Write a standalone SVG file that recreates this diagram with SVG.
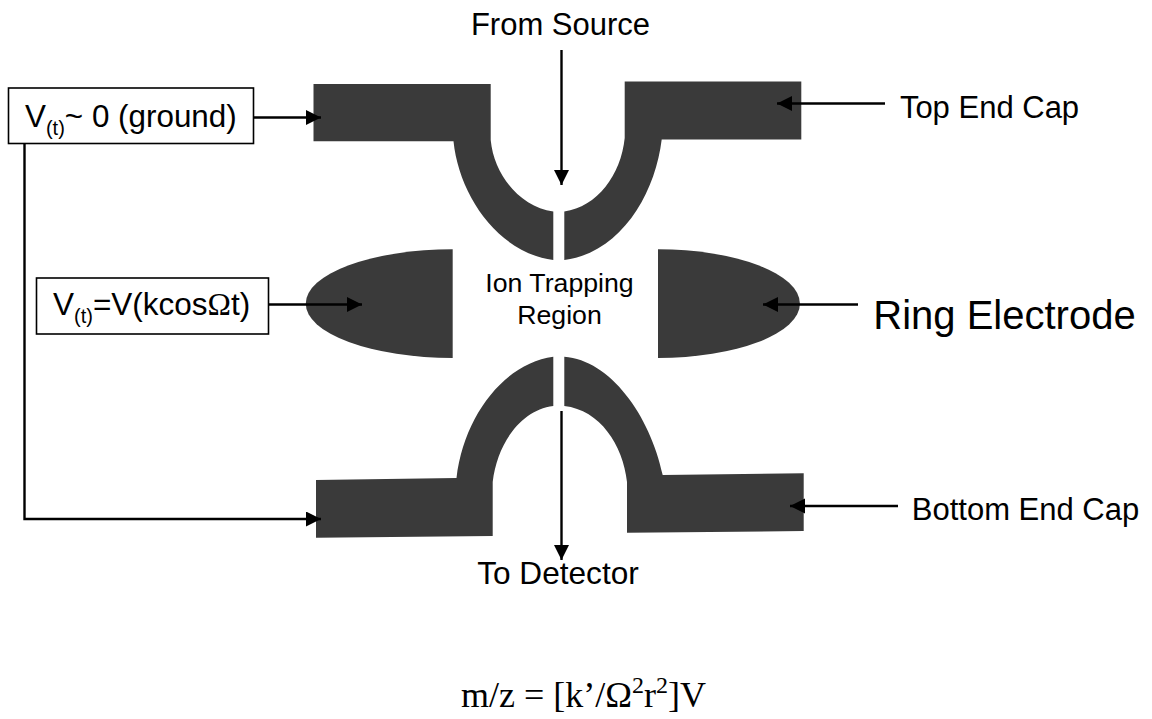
<svg xmlns="http://www.w3.org/2000/svg" width="1152" height="719" viewBox="0 0 1152 719">
<style>
.e{fill:#3a3a3a}
.l{fill:none;stroke:#000;stroke-width:2.4}
.b{fill:#fff;stroke:#000;stroke-width:1.6}
text{font-family:"Liberation Sans",Arial,sans-serif;fill:#000}
.s{font-family:"Liberation Serif","Times New Roman",serif}
</style>
<defs><marker id="a" markerUnits="userSpaceOnUse" markerWidth="16" markerHeight="16" refX="15" refY="7.5" orient="auto"><path d="M0 0L15 7.5L0 15Z" fill="#000"/></marker></defs>
<rect width="1152" height="719" fill="#fff"/>
<g id="top-end-cap-left"><path class="e" d="M313.5 84H490.7V140C494 175 520 207 553.3 211.5V260C498 253 459 195 453.5 141.3H313.5Z"/></g>
<g id="top-end-cap-right"><path class="e" d="M801.3 81.5H624.7V138C621 175 597 207 564.3 211.5V260C620 253 655 195 661.7 139.5H801.3Z"/></g>
<g id="ring-left"><path class="e" d="M452.7 249.3V358A146 54 0 0 1 452.7 249.3Z"/></g>
<g id="ring-right"><path class="e" d="M658 249.3V358A141 54 0 0 0 658 249.3Z"/></g>
<g id="bottom-end-cap-left"><path class="e" d="M316 480L456.5 478C464 415 505 363 553.3 356.7V406C520 410 497 445 492.7 482V536L316 537.7Z"/></g>
<g id="bottom-end-cap-right"><path class="e" d="M803.7 473.3L662.7 475C650 415 610 360 564.3 356.7V406C600 410 623 445 627 482V532.7L803.7 531Z"/></g>
<g id="connectors">
<path class="l" marker-end="url(#a)" d="M561.5 50V185"/>
<path class="l" marker-end="url(#a)" d="M561.5 411V560"/>
<path class="l" marker-end="url(#a)" d="M885 103.5H777"/>
<path class="l" marker-end="url(#a)" d="M253 117.5H321"/>
<path class="l" marker-end="url(#a)" d="M268 304.5H362"/>
<path class="l" marker-end="url(#a)" d="M858 304.5H763"/>
<path class="l" marker-end="url(#a)" d="M898 506H790"/>
<path class="l" marker-end="url(#a)" d="M24.5 143V519H321"/>
</g>
<g id="box-ground"><rect class="b" x="8.5" y="88" width="245" height="55.5"/><text x="25" y="127" font-size="31.4">V<tspan font-size="20" dy="8">(t)</tspan><tspan dy="-8">~ 0 (ground)</tspan></text></g>
<g id="box-rf"><rect class="b" x="36.5" y="278" width="232" height="56"/><text x="53" y="315" font-size="31.5">V<tspan font-size="20" dy="8">(t)</tspan><tspan dy="-8">=V(kcos</tspan><tspan class="s">Ω</tspan>t)</text></g>
<g id="labels">
<text x="560.5" y="35" font-size="31" text-anchor="middle">From Source</text>
<text x="989.5" y="118" font-size="31" text-anchor="middle">Top End Cap</text>
<text x="1004.5" y="329" font-size="40" text-anchor="middle">Ring Electrode</text>
<text x="1025.5" y="519.5" font-size="31" text-anchor="middle">Bottom End Cap</text>
<text x="558" y="584" font-size="31.6" text-anchor="middle">To Detector</text>
<text x="559.5" y="292" font-size="26.7" text-anchor="middle">Ion Trapping</text>
<text x="559.5" y="323.5" font-size="26.7" text-anchor="middle">Region</text>
<text class="s" x="461" y="707" font-size="36">m/z = [k’/Ω<tspan font-size="24" dy="-14">2</tspan><tspan dy="14">r</tspan><tspan font-size="24" dy="-14">2</tspan><tspan dy="14">]V</tspan></text>
</g>
</svg>
